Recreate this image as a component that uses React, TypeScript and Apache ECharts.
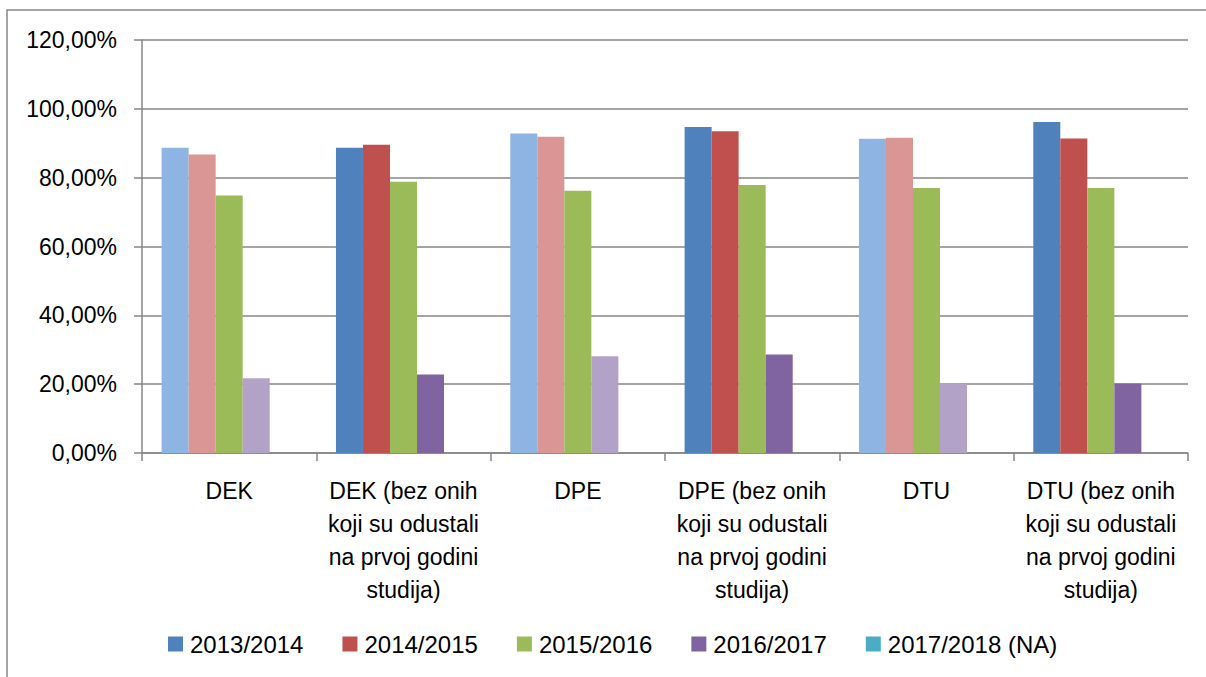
import React, { useEffect, useRef } from "react";
import * as echarts from "echarts";

const categories = [
  "DEK",
  "DEK (bez onih\nkoji su odustali\nna prvoj godini\nstudija)",
  "DPE",
  "DPE (bez onih\nkoji su odustali\nna prvoj godini\nstudija)",
  "DTU",
  "DTU (bez onih\nkoji su odustali\nna prvoj godini\nstudija)",
];
const seriesNames = ["2013/2014", "2014/2015", "2015/2016", "2016/2017", "2017/2018 (NA)"];
const v2013 = [88.7, 88.7, 92.8, 94.7, 91.3, 96.2];
const v2014 = [86.7, 89.6, 91.9, 93.5, 91.6, 91.4];
const v2015 = [74.8, 78.8, 76.2, 77.9, 77.0, 77.0];
const v2016 = [21.7, 22.8, 28.1, 28.6, 20.2, 20.2];
const v2017: (number | null)[] = [null, null, null, null, null, null];
const darkColors = ["#4F81BD", "#C0504D", "#9BBB59", "#8064A2", "#4BACC6"];
const lightColors = ["#8EB4E3", "#D99694", "#9BBB59", "#B3A2C7", "#93CDDD"];

const FONT = "'Liberation Sans', Arial, sans-serif";

export default function App() {
  const ref = useRef<HTMLDivElement>(null);
  useEffect(() => {
    document.body.style.margin = "0";
    const chart = echarts.init(ref.current!, null, { renderer: "svg" });
    const allValues = [v2013, v2014, v2015, v2016, v2017];
    const series = allValues.map((vals, si) => ({
      name: seriesNames[si],
      type: "bar",
      barGap: "0%",
      barCategoryGap: "22.5%",
      itemStyle: { color: darkColors[si] },
      data: vals.map((v, ci) =>
        v == null
          ? null
          : { value: v, itemStyle: { color: ci % 2 === 0 ? lightColors[si] : darkColors[si] } }
      ),
    }));
    chart.setOption({
      animation: false,
      backgroundColor: "#ffffff",
      textStyle: { fontFamily: FONT },
      graphic: [
        {
          type: "rect",
          shape: { x: 7, y: 10, width: 1300, height: 800 },
          style: { fill: "none", stroke: "#868686", lineWidth: 1.5 },
          silent: true,
        },
      ],
      grid: { left: 142, top: 40, width: 1046, height: 413, containLabel: false },
      legend: {
        data: seriesNames,
        left: 163,
        top: 627,
        icon: "rect",
        itemWidth: 15,
        itemHeight: 15,
        itemGap: 39,
        textStyle: { fontSize: 24, color: "#000", fontFamily: FONT, lineHeight: 24, padding: [0, 0, 0, 2] },
      },
      xAxis: {
        type: "category",
        data: categories,
        axisLine: { lineStyle: { color: "#868686", width: 1.5 } },
        axisTick: { show: true, length: 8, lineStyle: { color: "#868686", width: 1.5 } },
        axisLabel: {
          interval: 0,
          margin: 21,
          fontSize: 23,
          lineHeight: 33,
          color: "#000",
          fontFamily: FONT,
          align: "center",
        },
      },
      yAxis: {
        type: "value",
        min: 0,
        max: 120,
        interval: 20,
        axisLine: { show: true, lineStyle: { color: "#868686", width: 1.5 } },
        axisTick: { show: true, length: 8, lineStyle: { color: "#868686", width: 1.5 } },
        splitLine: { lineStyle: { color: "#868686", width: 1.5 } },
        axisLabel: {
          margin: 25,
          fontSize: 23,
          color: "#000",
          fontFamily: FONT,
          formatter: (v: number) => v.toFixed(2).replace(".", ",") + "%",
        },
      },
      series,
    });
    return () => chart.dispose();
  }, []);
  return <div ref={ref} style={{ width: 1206, height: 677 }} />;
}
